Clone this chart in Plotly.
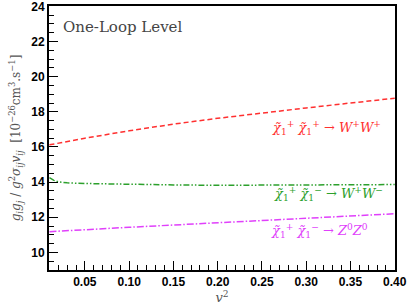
import plotly.graph_objects as go

# data
v2 = [0.01, 0.015, 0.02, 0.03, 0.05, 0.10, 0.15, 0.20, 0.25, 0.30, 0.35, 0.40]
ww_pp = [16.12, 16.17, 16.22, 16.31, 16.50, 16.92, 17.30, 17.63, 17.94, 18.22, 18.50, 18.77]
ww_pm = [14.25, 14.10, 14.02, 13.96, 13.92, 13.87, 13.84, 13.82, 13.82, 13.83, 13.84, 13.86]
zz = [11.18, 11.19, 11.21, 11.23, 11.29, 11.43, 11.56, 11.69, 11.82, 11.94, 12.07, 12.20]

x_ticks = [0.05, 0.10, 0.15, 0.20, 0.25, 0.30, 0.35, 0.40]
y_ticks = [10, 12, 14, 16, 18, 20, 22, 24]

RED = "#ff3030"
GREEN = "#2ca02c"
MAG = "#e040fb"

fig = go.Figure()
fig.add_trace(go.Scatter(x=v2, y=ww_pp, mode="lines",
                         line=dict(color=RED, width=1.5, dash="5px,3px"), showlegend=False))
fig.add_trace(go.Scatter(x=v2, y=ww_pm, mode="lines",
                         line=dict(color=GREEN, width=1.5, dash="6px,2px,1.5px,2px,1.5px,2px"), showlegend=False))
fig.add_trace(go.Scatter(x=v2, y=zz, mode="lines",
                         line=dict(color=MAG, width=1.5, dash="7px,2px,1.5px,2px"), showlegend=False))

serif = "DejaVu Serif"
fig.add_annotation(x=0.01 + (327 - 49) / 346 * 0.39, y=24 - (128 - 6) / 17.57,
                   text="<i>χ̃</i><sub>1</sub><sup>+</sup> <i>χ̃</i><sub>1</sub><sup>+</sup> → <i>W</i><sup>+</sup><i>W</i><sup>+</sup>",
                   showarrow=False, font=dict(family=serif, size=13, color=RED))
fig.add_annotation(x=0.01 + (329 - 49) / 346 * 0.39, y=24 - (194 - 6) / 17.57,
                   text="<i>χ̃</i><sub>1</sub><sup>+</sup> <i>χ̃</i><sub>1</sub><sup>−</sup> → <i>W</i><sup>+</sup><i>W</i><sup>−</sup>",
                   showarrow=False, font=dict(family=serif, size=13, color=GREEN))
fig.add_annotation(x=0.01 + (320 - 49) / 346 * 0.39, y=24 - (231 - 6) / 17.57,
                   text="<i>χ̃</i><sub>1</sub><sup>+</sup> <i>χ̃</i><sub>1</sub><sup>−</sup> → <i>Z</i><sup>0</sup><i>Z</i><sup>0</sup>",
                   showarrow=False, font=dict(family=serif, size=13, color=MAG))
fig.add_annotation(xref="paper", yref="paper", x=(61 - 49) / 346, y=1 - (27 - 6) / 264,
                   xanchor="left", yanchor="middle", text="One-Loop Level", showarrow=False,
                   font=dict(family=serif, size=15, color="#444444"))

fig.update_layout(
    width=407, height=305,
    margin=dict(l=49, r=12, t=6, b=35),
    paper_bgcolor="white", plot_bgcolor="white",
    xaxis=dict(range=[0.0095, 0.4003], tickvals=x_ticks, ticktext=[f"{t:.2f}" for t in x_ticks],
               automargin=False, ticklabeloverflow="allow",
               ticks="inside", ticklen=9, tickwidth=1, tickcolor="black",
               minor=dict(dtick=0.01, tick0=0, ticks="inside", ticklen=5, tickcolor="black"),
               showgrid=False, zeroline=False,
               showline=True, linecolor="black", linewidth=2, mirror=True,
               tickfont=dict(family="Liberation Sans", size=12, color="black", weight="bold"),
               title=dict(text="<i>v</i><sup>2</sup>", standoff=4,
                          font=dict(family=serif, size=13, color="#555555"))),
    yaxis=dict(range=[9, 24.02], tickvals=y_ticks,
               automargin=False, ticklabeloverflow="allow",
               ticks="inside", ticklen=9, tickwidth=1, tickcolor="black",
               minor=dict(dtick=0.5, tick0=0, ticks="inside", ticklen=5, tickcolor="black"),
               showgrid=False, zeroline=False,
               showline=True, linecolor="black", linewidth=2, mirror=True,
               tickfont=dict(family="Liberation Sans", size=12, color="black", weight="bold"),
               title=dict(text="<i>g<sub>i</sub>g<sub>j</sub></i> / <i>g</i><sup>2</sup><i>σ<sub>ij</sub>v<sub>ij</sub></i>  [10<sup>−26</sup>cm<sup>3</sup>.s<sup>−1</sup>]",
                          standoff=8, font=dict(family=serif, size=12, color="#555555"))),
)

fig.write_html("out.html", config={"displayModeBar": False},
               post_script="document.body.style.margin='0';document.body.style.padding='0';")
